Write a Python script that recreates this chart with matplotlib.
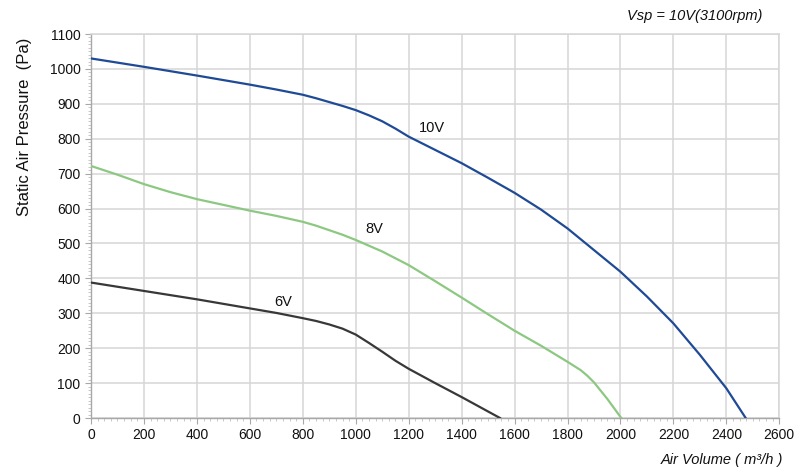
#!/usr/bin/env python3

from matplotlib import pyplot as pl
from matplotlib.ticker import MultipleLocator

pl.rcParams['font.family'] = ['Liberation Sans', 'DejaVu Sans']

# fan curves, air volume (m3/h) vs static pressure (Pa)
x10 = [0, 200, 400, 600, 700, 800, 850, 900, 950, 1000, 1050, 1100, 1150,
       1200, 1300, 1400, 1500, 1600, 1700, 1800, 1900, 2000, 2100, 2200,
       2250, 2300, 2400, 2473]
y10 = [1030, 1006, 981, 955, 941, 926, 916, 905, 894, 882, 867, 850, 829,
       806, 768, 730, 688, 645, 597, 543, 481, 419, 348, 271,
       226, 181, 85, 0]

x8 = [0, 100, 200, 300, 400, 600, 700, 800, 850, 900, 950, 1000, 1100,
      1200, 1300, 1400, 1500, 1600, 1700, 1800, 1850, 1875, 1900, 1950,
      2003]
y8 = [722, 697, 670, 647, 627, 594, 579, 562, 551, 538, 525, 510, 477,
      438, 392, 345, 297, 250, 207, 161, 137, 121, 102, 55,
      0]

x6 = [0, 200, 400, 600, 700, 800, 850, 900, 950, 1000, 1050, 1100, 1150,
      1200, 1300, 1400, 1545]
y6 = [388, 364, 340, 314, 301, 286, 278, 268, 256, 239, 215, 190, 164,
      141, 100, 60, 0]

curves = [
    (x10, y10, '#1f4a96', '10V', (1287, 830)),
    (x8, y8, '#8dc882', '8V', (1070, 542)),
    (x6, y6, '#383838', '6V', (726, 331)),
]

fig = pl.figure(figsize=(7.97, 4.71), dpi=100)
ax = fig.add_axes([0.1142, 0.1125, 0.8636, 0.8153])

for xs, ys, color, name, pos in curves:
    ax.plot(xs, ys, color=color, linewidth=1.6, zorder=3,
            solid_joinstyle='round')
    ax.text(pos[0], pos[1], name, fontsize=10.5, ha='center', va='center',
            color='#111111')

ax.set_xlim(0, 2600)
ax.set_ylim(0, 1100)
ax.xaxis.set_major_locator(MultipleLocator(200))
ax.yaxis.set_major_locator(MultipleLocator(100))
ax.xaxis.set_minor_locator(MultipleLocator(25))
ax.yaxis.set_minor_locator(MultipleLocator(10))

ax.grid(True, which='major', color='#d6d6d6', linewidth=1.1)
ax.set_axisbelow(True)
for side in ['top', 'right']:
    ax.spines[side].set_color('#d6d6d6')
    ax.spines[side].set_linewidth(1.1)
for side in ['left', 'bottom']:
    ax.spines[side].set_color('#a8a8a8')
    ax.spines[side].set_linewidth(1.0)

ax.tick_params(which='major', length=4, color='#a8a8a8', labelsize=10,
               labelcolor='#111111')
ax.tick_params(which='minor', length=2.5, color='#c0c0c0')

fig.text(0.031, 0.730, 'Static Air Pressure  (Pa)', rotation=90,
         ha='center', va='center', fontsize=12, color='#111111')
fig.text(0.982, 0.023, 'Air Volume ( m\u00b3/h )', ha='right', va='center',
         fontsize=10.5, style='italic', color='#111111')
fig.text(0.956, 0.966, 'Vsp = 10V(3100rpm)', ha='right', va='center',
         fontsize=10.5, style='italic', color='#111111')

fig.savefig('out.png', dpi=100)
